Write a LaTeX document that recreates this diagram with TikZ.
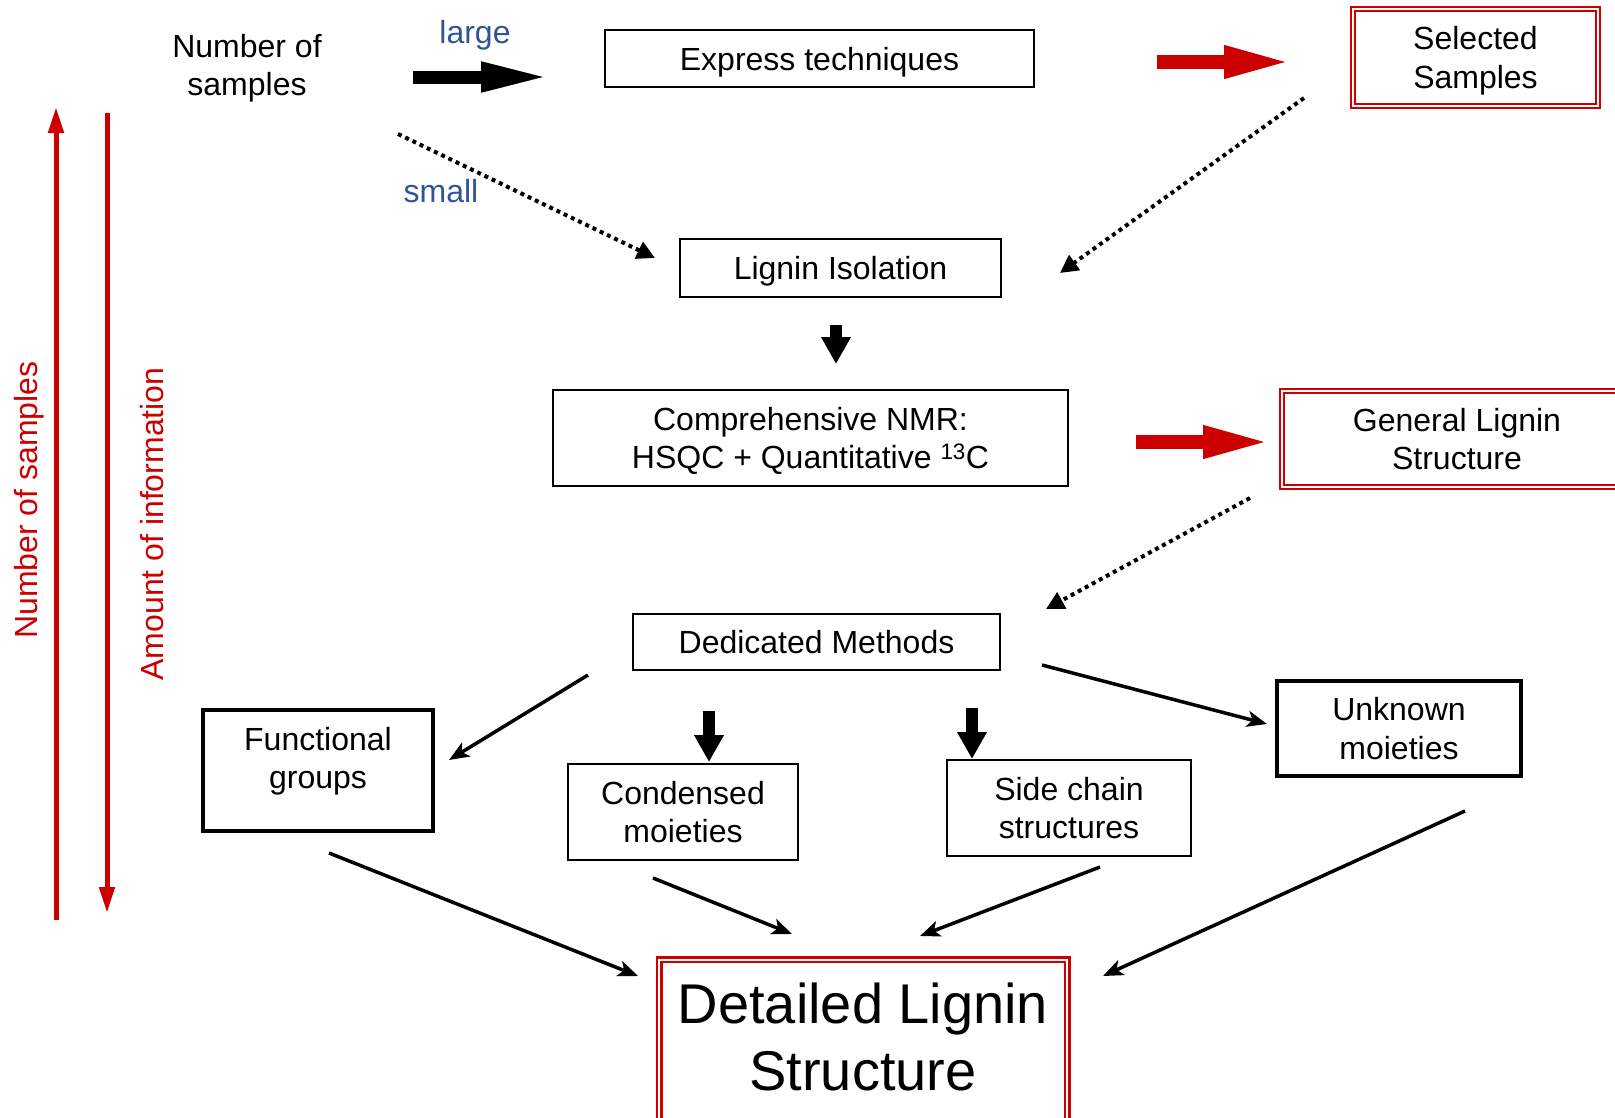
\documentclass[tikz,border=0pt]{standalone}
\usepackage{fontspec}
\setmainfont{Liberation Sans}
\usetikzlibrary{positioning, arrows.meta}
\definecolor{lgred}{HTML}{CC0000}
\definecolor{lgblue}{HTML}{2F5597}

\begin{document}
\begin{tikzpicture}[x=1pt, y=-1pt, font=\fontsize{32}{38.4}\selectfont,
    plainbox/.style={draw, line width=1.6pt, inner sep=0pt, align=center, text depth=0pt},
    thickbox/.style={draw, line width=3.5pt, inner sep=0pt, align=center, text depth=0pt},
    redbox/.style={draw=lgred, double=white, line width=2pt, double distance=2pt, inner sep=0pt, align=center, text depth=0pt},
    thinarrow/.style={line width=3.5pt, -{Stealth[length=20pt, width=16pt, inset=5pt]}},
    dotarrow/.style={line width=4pt, dash pattern=on 4pt off 4pt, -{Triangle[length=18pt, width=18pt]}},
    blockarrow/.style={line width=13pt, -{Triangle[length=70pt, width=27pt]}},
    downarrow/.style={line width=12pt, -{Triangle[length=27pt, width=28pt]}},
    redarrow/.style={draw=lgred, line width=14.5pt, -{Triangle[length=70pt, width=29pt]}},
    axisarrow/.style={draw=lgred, line width=5pt, -{Triangle[length=26pt, width=15pt]}}]
  \useasboundingbox (0,0) rectangle (1615,1117);
  \clip (0,0) rectangle (1615,1117);
  % boxes
  \node[align=center, text depth=0pt] (numsamples) at (247,65) {Number of\\samples};
  \node[text=lgblue, text depth=0pt] (lbllarge) at (475,32) {large};
  \node[text=lgblue] (lblsmall) at (441,191) {small};
  \node[plainbox, minimum width=429pt, minimum height=57pt] (express) at (819.5,58.5) {Express techniques};
  \node[redbox, minimum width=245pt, minimum height=97pt] (selected) at (1475.5,57.5) {Selected\\Samples};
  \node[plainbox, minimum width=321pt, minimum height=58pt] (isolation) at (840.5,268) {Lignin Isolation};
  \node[plainbox, minimum width=515pt, minimum height=96pt] (nmr) at (810.5,438) {Comprehensive NMR:\\HSQC + Quantitative \textsuperscript{13}C};
  \node[redbox, minimum width=350pt, minimum height=96pt] (general) at (1457,439) {General Lignin\\Structure};
  \node[plainbox, minimum width=367pt, minimum height=56pt] (dedicated) at (816.5,642) {Dedicated Methods};
  \node[thickbox, text depth=25pt, minimum width=230pt, minimum height=121pt] (functional) at (318,770.5) {Functional\\groups};
  \node[plainbox, minimum width=230pt, minimum height=96pt] (condensed) at (683,812) {Condensed\\moieties};
  \node[plainbox, minimum width=244pt, minimum height=96pt] (sidechain) at (1069,808) {Side chain\\structures};
  \node[thickbox, minimum width=244pt, minimum height=95pt] (unknown) at (1399,728.5) {Unknown\\moieties};
  \node[redbox, line width=2.5pt, text depth=10pt, minimum width=408pt, minimum height=165pt,
        font=\fontsize{56}{67}\selectfont] (detailed) at (863,1042) {Detailed Lignin\\Structure};
  \node[text=lgred, rotate=90] (axsamples) at (29,500) {Number of samples};
  \node[text=lgred, rotate=90] (axinfo) at (152,524) {Amount of information};
  % arrow ends
  \coordinate (large0) at (413,77);      \coordinate (large1) at (551,77);
  \coordinate (small0) at (398,134);     \coordinate (small1) at (655,258);
  \coordinate (sel0) at (1157,62);       \coordinate (sel1) at (1294,62);
  \coordinate (back0) at (1304,98);      \coordinate (back1) at (1060,273);
  \coordinate (iso0) at (836,325);       \coordinate (iso1) at (836,364);
  \coordinate (gen0) at (1136,442);      \coordinate (gen1) at (1273,442);
  \coordinate (ded0) at (1250,498);      \coordinate (ded1) at (1046,609);
  \coordinate (fun0) at (588,675);       \coordinate (fun1) at (449,760);
  \coordinate (con0) at (709,711);       \coordinate (con1) at (709,762);
  \coordinate (sid0) at (972,708);       \coordinate (sid1) at (972,759);
  \coordinate (unk0) at (1042,665);      \coordinate (unk1) at (1267,724);
  \coordinate (fd0) at (329,853);        \coordinate (fd1) at (638,976);
  \coordinate (cd0) at (653,878);        \coordinate (cd1) at (792,934);
  \coordinate (sd0) at (1100,867);       \coordinate (sd1) at (920,936);
  \coordinate (ud0) at (1465,811);       \coordinate (ud1) at (1103,976);
  \coordinate (up0) at (56,920);         \coordinate (up1) at (56,107);
  \coordinate (dn0) at (107,113);        \coordinate (dn1) at (107,913);
  % connectors
  \draw[blockarrow] (large0) -- (large1);
  \draw[dotarrow] (small0) -- (small1);
  \draw[redarrow] (sel0) -- (sel1);
  \draw[dotarrow] (back0) -- (back1);
  \draw[downarrow] (iso0) -- (iso1);
  \draw[redarrow] (gen0) -- (gen1);
  \draw[dotarrow] (ded0) -- (ded1);
  \draw[thinarrow] (fun0) -- (fun1);
  \draw[downarrow] (con0) -- (con1);
  \draw[downarrow] (sid0) -- (sid1);
  \draw[thinarrow] (unk0) -- (unk1);
  \draw[thinarrow] (fd0) -- (fd1);
  \draw[thinarrow] (cd0) -- (cd1);
  \draw[thinarrow] (sd0) -- (sd1);
  \draw[thinarrow] (ud0) -- (ud1);
  \draw[axisarrow] (up0) -- (up1);
  \draw[axisarrow] (dn0) -- (dn1);
\end{tikzpicture}
\end{document}
